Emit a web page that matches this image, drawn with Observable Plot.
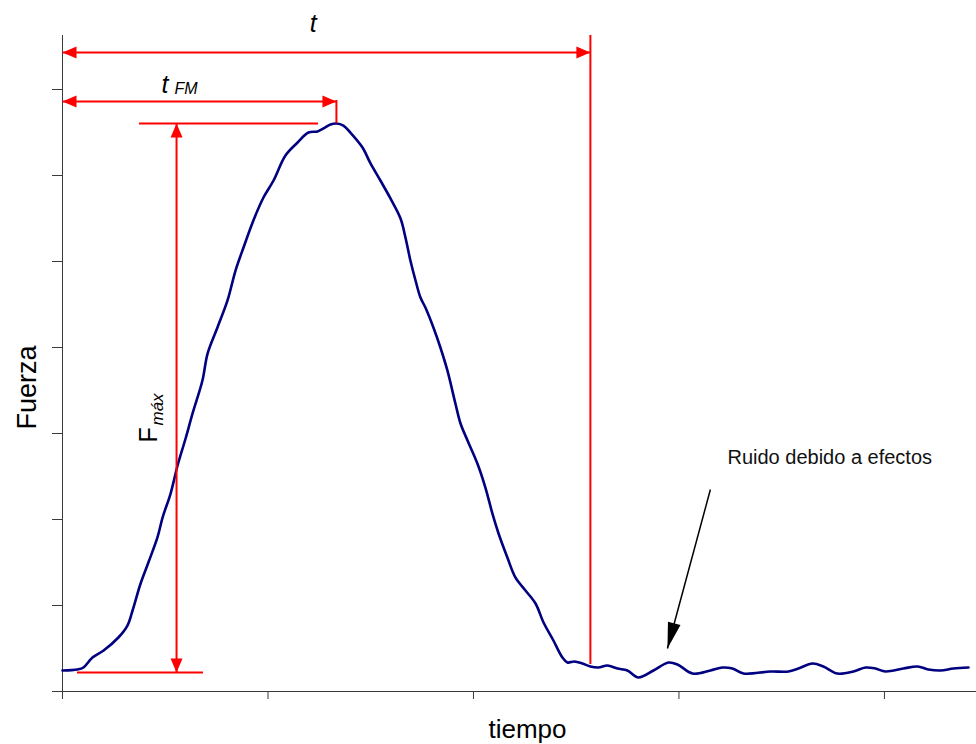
<!DOCTYPE html>
<html>
<head>
<meta charset="utf-8">
<script src="https://cdn.jsdelivr.net/npm/d3@7"></script>
<script src="https://cdn.jsdelivr.net/npm/@observablehq/plot@0.6"></script>
<style>
  body { margin: 0; background: #fff; }
  #chart svg { display: block; }
</style>
</head>
<body>
<div id="chart"></div>
<script>
// Force–time record of a single impact, followed by residual noise.
const time = [
  0, 7.3, 10.2, 14.6, 20.0, 27.2, 31.6, 34.1, 38.0, 41.8, 46.2, 48.7, 52.6, 56.0, 59.9, 63.3,
  68.1, 70.6, 75.4, 80.3, 84.2, 88.1, 92.9, 97.8, 102.7, 108.5, 114.4, 119.7, 124.1, 127.0, 130.4,
  133.3, 136.7, 140.1, 146.0, 149.9, 154.7, 159.6, 164.5, 166.9, 169.3, 171.8, 174.2, 176.6, 180.5,
  183.9, 187.3, 191.2, 193.7, 197.1, 201.9, 205.8, 209.2, 212.2, 216.5, 220.4, 225.3, 230.2, 234.1,
  238.9, 243.3, 245.7, 249.1, 253.0, 256.9, 260.8, 265.2, 270.1, 274.9, 280.3, 287.6, 294.9, 299.3,
  306.6, 315.3, 321.2, 326.0, 331.4, 344.5, 353.3, 358.1, 365.0, 370.3, 377.1, 384.9, 390.8, 395.6,
  400.5, 409.2, 416.1, 421.4, 427.3, 433.6, 440.9
];
const force = [
  24.4, 25.6, 27.9, 39.5, 47.7, 62.8, 76.7, 94.2, 125.6, 150.0, 179.1, 202.3, 230.2, 262.8, 294.2, 323.3,
  361.6, 393.0, 423.3, 454.7, 489.5, 516.3, 547.7, 574.4, 594.2, 623.3, 638.4, 650.0, 651.2, 654.7, 659.3,
  660.5, 658.1, 650.0, 632.6, 614.0, 594.2, 573.3, 550.0, 527.9, 501.2, 477.9, 458.1, 446.5, 423.3,
  400.0, 373.3, 334.9, 311.6, 291.9, 265.1, 237.2, 207.0, 183.7, 155.8, 132.6, 117.4, 102.3, 80.2,
  59.3, 39.5, 33.7, 34.9, 32.6, 29.1, 27.9, 30.2, 26.7, 24.4, 16.3, 24.4, 33.7, 31.4,
  20.9, 24.4, 27.9, 26.7, 20.9, 23.3, 23.3, 26.7, 32.6, 29.1, 20.9, 23.3, 27.9, 26.7,
  23.3, 26.7, 29.1, 25.6, 24.4, 26.7, 27.9
];
const xTicks = [0, 100, 200, 300, 400];
const yTicks = [0, 100, 200, 300, 400, 500, 600, 700];

// Plot geometry
const W = 976, H = 744;
const M = {left: 62, right: 0, top: 35, bottom: 53};
const xDomain = [0, 444.8];
const yDomain = [0, 762.8];

// Quantities marked on the chart
const series = time.map((t, i) => ({t, f: force[i]}));
const peak = series[d3.maxIndex(series, d => d.f)];
const tFM = peak.t;        // time to maximum force
const fMax = peak.f;       // maximum force
const tTotal = 256.9;      // total duration of the impact
const forceBase = 22.1;    // resting level of the signal

// Annotation layout (data units)
const rowT = 743.0, rowTFM = 686.0, colFmax = 55.5;

const xPx = d3.scaleLinear(xDomain, [M.left, W - M.right]);
const yPx = d3.scaleLinear(yDomain, [H - M.bottom, M.top]);
const angleOf = (x1, y1, x2, y2) =>
  Math.atan2(yPx(y2) - yPx(y1), xPx(x2) - xPx(x1)) * 180 / Math.PI;

const noiseArrow = {x1: 315.3, y1: 234.9, x2: 294.4, y2: 50.0};

// Filled triangular arrowhead, tip at the origin, pointing along +x
const head = (len, wid) => ({
  draw(ctx) {
    ctx.moveTo(0, 0);
    ctx.lineTo(-len, -wid / 2);
    ctx.lineTo(-len, wid / 2);
    ctx.closePath();
  }
});

const redLinks = [
  {x1: 0, y1: rowT, x2: tTotal, y2: rowT},
  {x1: 0, y1: rowTFM, x2: tFM, y2: rowTFM},
  {x1: colFmax, y1: forceBase, x2: colFmax, y2: fMax}
];
const redHeads = [
  {x: 0, y: rowT, a: 180}, {x: tTotal, y: rowT, a: 0},
  {x: 0, y: rowTFM, a: 180}, {x: tFM, y: rowTFM, a: 0},
  {x: colFmax, y: fMax, a: -90}, {x: colFmax, y: forceBase, a: 90}
];
const blackHead = [{x: noiseArrow.x2, y: noiseArrow.y2,
  a: angleOf(noiseArrow.x1, noiseArrow.y1, noiseArrow.x2, noiseArrow.y2)}];

const font = "'Liberation Sans', Arial, Helvetica, sans-serif";
const RED = "#ff0000", NAVY = "#000080", AXIS = "#3a3a3a";

const chart = Plot.plot({
  width: W, height: H,
  marginLeft: M.left, marginRight: M.right, marginTop: M.top, marginBottom: M.bottom,
  style: {fontFamily: font, color: AXIS, background: "#fff"},
  x: {domain: xDomain},
  y: {domain: yDomain},
  marks: [
    // axes
    Plot.ruleY([0], {stroke: AXIS, strokeWidth: 1}),
    Plot.ruleX([0], {stroke: AXIS, strokeWidth: 1}),
    Plot.axisX({ticks: xTicks, tickSize: 8, tickFormat: () => "", label: null, stroke: AXIS}),
    Plot.axisY({ticks: yTicks, tickSize: 10, tickFormat: () => "", label: null, stroke: AXIS}),

    // force signal
    Plot.line(series, {x: "t", y: "f", stroke: NAVY, strokeWidth: 2.6, curve: "catmull-rom"}),

    // red measurement guides
    Plot.ruleX([tTotal], {y1: 31.4, y2: yDomain[1], stroke: RED, strokeWidth: 2}),
    Plot.ruleX([tFM], {y1: fMax, y2: 687.2, stroke: RED, strokeWidth: 2}),
    Plot.ruleY([fMax], {x1: 37.5, x2: 124.6, stroke: RED, strokeWidth: 2}),
    Plot.ruleY([forceBase], {x1: 7.3, x2: 68.6, stroke: RED, strokeWidth: 2}),
    Plot.link(redLinks, {x1: "x1", y1: "y1", x2: "x2", y2: "y2", stroke: RED, strokeWidth: 2}),
    Plot.dot(redHeads, {x: "x", y: "y", rotate: "a", r: 6, symbol: head(14, 12), fill: RED}),

    // noise pointer
    Plot.link([noiseArrow], {x1: "x1", y1: "y1", x2: "x2", y2: "y2", stroke: "#000", strokeWidth: 1.5}),
    Plot.dot(blackHead, {x: "x", y: "y", rotate: "a", r: 6, symbol: head(26, 13), fill: "#000"}),

    // labels
    Plot.text(["t"], {x: 122, y: 767.4, text: d => d, fontSize: 25, fontStyle: "italic",
      lineAnchor: "bottom", textAnchor: "middle", fill: "#000"}),
    Plot.text(["t"], {x: 48.2, y: 696.5, text: d => d, fontSize: 25, fontStyle: "italic",
      lineAnchor: "bottom", textAnchor: "start", fill: "#000"}),
    Plot.text(["FM"], {x: 54.5, y: 694.2, text: d => d, fontSize: 16, fontStyle: "italic",
      lineAnchor: "bottom", textAnchor: "start", fill: "#000"}),
    Plot.text(["F"], {x: 46.2, y: 289.5, text: d => d, fontSize: 25, rotate: -90,
      lineAnchor: "bottom", textAnchor: "start", fill: "#000"}),
    Plot.text(["máx"], {x: 49.1, y: 309.3, text: d => d, fontSize: 17, fontStyle: "italic", rotate: -90,
      lineAnchor: "bottom", textAnchor: "start", fill: "#000"}),
    Plot.text(["Ruido debido a efectos"], {x: 323.6, y: 265.1, text: d => d, fontSize: 20,
      lineAnchor: "bottom", textAnchor: "start", fill: "#111"}),
    Plot.text(["Fuerza"], {frameAnchor: "left", y: 353.5, dx: -27, text: d => d, fontSize: 27,
      rotate: -90, lineAnchor: "bottom", textAnchor: "middle", fill: "#000"}),
    Plot.text(["tiempo"], {x: 226.3, frameAnchor: "bottom", dy: 46, text: d => d, fontSize: 26,
      lineAnchor: "bottom", textAnchor: "middle", fill: "#000"})
  ]
});

document.getElementById("chart").append(chart);
</script>
</body>
</html>
